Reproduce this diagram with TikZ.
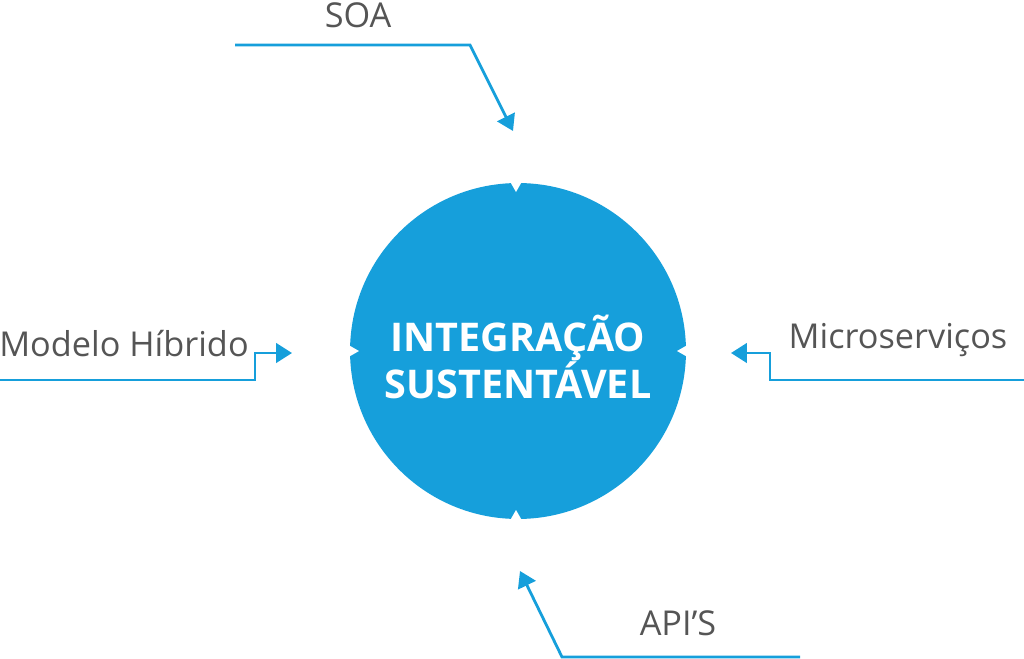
\documentclass[tikz,border=0pt]{standalone}
\usepackage{fontspec}
\setmainfont{Open Sans}
\usetikzlibrary{arrows.meta}
\definecolor{azul}{HTML}{169FDB}
\definecolor{cinza}{HTML}{555555}
\tikzset{
  label/.style={text=cinza,font=\fontsize{19.5}{24}\selectfont},
  conn/.style={azul,line width=1.6pt,-{Triangle[length=9pt,width=11pt]}},
  notch/.style={fill=white,draw=none}
}
\begin{document}
\begin{tikzpicture}[x=0.02cm,y=-0.02cm]
            % Bounds
            \useasboundingbox (0,0) rectangle (1024,659);

            % Centre
            \node[circle,fill=azul,minimum size=6.72cm,inner sep=0pt] (C) at (518,351) {};
            \node[text=white,font=\bfseries\fontsize{22.5}{27}\selectfont,align=center] (T) at (518,357) {INTEGRAÇÃO\\SUSTENTÁVEL};
            \fill[notch] (508,178) -- (524,178) -- (516,192) -- cycle;
            \fill[notch] (508,524) -- (524,524) -- (516,510) -- cycle;
            \fill[notch] (345,343) -- (345,359) -- (359,351) -- cycle;
            \fill[notch] (691,343) -- (691,359) -- (677,351) -- cycle;

            % Labels
            \node[label] (soa) at (358,15) {SOA};
            \node[label] (hib) at (124,344) {Modelo Híbrido};
            \node[label] (mic) at (898,340) {Microserviços};
            \node[label] (api) at (678,623) {API’S};

            % Connectors
            \coordinate (s0) at (235,45);
            \coordinate (s1) at (513,131);
            \coordinate (h0) at (0,380);
            \coordinate (h1) at (292,353);
            \coordinate (m0) at (1024,380);
            \coordinate (m1) at (731,353);
            \coordinate (a0) at (800,657);
            \coordinate (a1) at (520,571);
            \draw[conn] (s0) -- (470,45) -- (s1);
            \draw[conn] (h0) -- (255,380) -- (255,353) -- (h1);
            \draw[conn] (m0) -- (770,380) -- (770,353) -- (m1);
            \draw[conn] (a0) -- (562,657) -- (a1);
\end{tikzpicture}
\end{document}
